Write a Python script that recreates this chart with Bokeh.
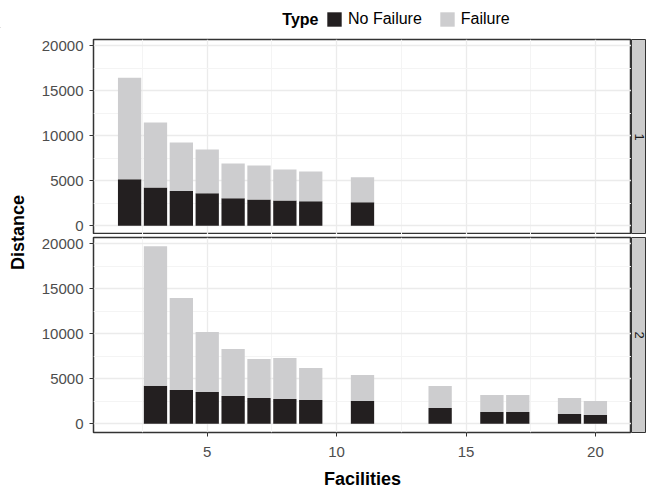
import math
from bokeh.plotting import figure
from bokeh.models import (ColumnDataSource, Range1d, FixedTicker, Legend, LegendItem)
from bokeh.layouts import column, row
from bokeh.core.properties import value
from bokeh.embed import file_html
from bokeh.resources import INLINE

# ---------------- data ----------------
series = ["No Failure", "Failure"]
panels = ["1", "2"]

top_facilities = [2, 3, 4, 5, 6, 7, 8, 9, 11]
top_no_failure = [5150, 4250, 3850, 3600, 3050, 2900, 2800, 2700, 2600]
top_failure = [11300, 7230, 5400, 4880, 3870, 3800, 3450, 3330, 2770]

bot_facilities = [3, 4, 5, 6, 7, 8, 9, 11, 14, 16, 17, 19, 20]
bot_no_failure = [4200, 3750, 3520, 3080, 2860, 2740, 2630, 2520, 1750, 1300, 1300, 1080, 970]
bot_failure = [15540, 10220, 6670, 5220, 4330, 4560, 3560, 2890, 2440, 1890, 1890, 1780, 1550]

x_ticks = [5, 10, 15, 20]
x_minor = [2.5, 7.5, 12.5, 17.5]
y_ticks = [0, 5000, 10000, 15000, 20000]
y_minor = [2500, 7500, 12500, 17500]

# ---------------- style ----------------
FONT = "Liberation Sans"
DARK = "#231F20"
LIGHT = "#CDCDCF"
colors = [DARK, LIGHT]
STRIP = "#CCCCCC"
BORDER = "#333333"
TICKLBL = "#4D4D4D"

X_RANGE = (0.605, 21.395)
Y_RANGE = (-985, 20700)

W_TOTAL = 646
W_LABEL = 30
W_STRIP = 15
W_PANEL = W_TOTAL - W_LABEL - W_STRIP
FRAME_H = 195
H_LEGEND = 28
TOP_BT = 11
TOP_BB = 0
BOT_BT = 3
H_TOP = TOP_BT + FRAME_H + TOP_BB
H_BOT = 491 - H_LEGEND - H_TOP
BOT_BB = H_BOT - BOT_BT - FRAME_H


def make_panel(xs, nf, fl, height, bottom_axis, border_bottom, border_top):
    src = ColumnDataSource(dict(x=xs, nf=nf, fl=fl))
    p = figure(width=W_PANEL, height=height, output_backend="svg",
               toolbar_location=None,
               x_range=Range1d(*X_RANGE), y_range=Range1d(*Y_RANGE),
               x_axis_location="below" if bottom_axis else None,
               min_border_left=63, min_border_right=0,
               min_border_top=border_top, min_border_bottom=border_bottom)
    p.background_fill_color = "white"
    p.border_fill_color = "white"
    p.outline_line_color = BORDER
    p.outline_line_width = 1.5

    p.xgrid.ticker = FixedTicker(ticks=x_ticks, minor_ticks=x_minor)
    p.ygrid.ticker = FixedTicker(ticks=y_ticks, minor_ticks=y_minor)
    for g in (p.xgrid, p.ygrid):
        g.grid_line_color = "#EBEBEB"
        g.grid_line_width = 1.3
        g.minor_grid_line_color = "#F4F4F4"
        g.minor_grid_line_width = 1

    p.vbar_stack(["nf", "fl"], x="x", width=0.9, source=src,
                 fill_color=colors, line_color=None)

    ya = p.yaxis[0]
    ya.ticker = FixedTicker(ticks=y_ticks, minor_ticks=[])
    ya.axis_line_color = None
    ya.major_tick_out = 4
    ya.major_tick_in = 0
    ya.minor_tick_out = 0
    ya.minor_tick_in = 0
    ya.major_tick_line_color = BORDER
    ya.major_label_standoff = 6
    ya.major_label_text_font = FONT
    ya.major_label_text_font_size = "15px"
    ya.major_label_text_color = TICKLBL

    if bottom_axis:
        xa = p.xaxis[0]
        xa.ticker = FixedTicker(ticks=x_ticks, minor_ticks=[])
        xa.axis_line_color = None
        xa.major_tick_out = 4
        xa.major_tick_in = 0
        xa.minor_tick_out = 0
        xa.minor_tick_in = 0
        xa.major_tick_line_color = BORDER
        xa.major_label_standoff = 10
        xa.major_label_text_font = FONT
        xa.major_label_text_font_size = "15px"
        xa.major_label_text_color = TICKLBL
        xa.axis_label = "Facilities"
        xa.axis_label_standoff = 9
        xa.axis_label_text_font = FONT
        xa.axis_label_text_font_size = "18px"
        xa.axis_label_text_font_style = "bold"
        xa.axis_label_text_color = "black"
    return p


def make_strip(label, height, border_bottom, border_top):
    s = figure(width=W_STRIP, height=height, output_backend="svg",
               toolbar_location=None,
               x_range=Range1d(0, 1), y_range=Range1d(0, 1),
               x_axis_location=None, y_axis_location=None,
               min_border_left=0, min_border_right=0,
               min_border_top=border_top, min_border_bottom=border_bottom)
    s.grid.visible = False
    s.background_fill_color = STRIP
    s.border_fill_color = "white"
    s.outline_line_color = BORDER
    s.outline_line_width = 1
    s.text(x=[0.5], y=[0.5], text=[label], angle=-math.pi / 2,
           text_align="center", text_baseline="middle",
           text_font=value(FONT), text_font_size="13px", text_color="#1A1A1A")
    return s


top = make_panel(top_facilities, top_no_failure, top_failure, H_TOP,
                 bottom_axis=False, border_bottom=TOP_BB, border_top=TOP_BT)
bot = make_panel(bot_facilities, bot_no_failure, bot_failure, H_BOT,
                 bottom_axis=True, border_bottom=BOT_BB, border_top=BOT_BT)
s1 = make_strip(panels[0], H_TOP, TOP_BB, TOP_BT)
s2 = make_strip(panels[1], H_BOT, BOT_BB, BOT_BT)

# ---------------- y axis title ----------------
H_BODY = H_TOP + H_BOT
lab = figure(width=W_LABEL, height=H_BODY, output_backend="svg",
             toolbar_location=None,
             x_range=Range1d(0, W_LABEL), y_range=Range1d(0, H_BODY),
             x_axis_location=None, y_axis_location=None,
             min_border=0)
lab.grid.visible = False
lab.outline_line_color = None
lab.text(x=[17], y=[H_BODY - (232 - H_LEGEND)], text=["Distance"], angle=math.pi / 2,
         text_align="center", text_baseline="middle",
         text_font=value(FONT), text_font_size="18px",
         text_font_style="bold", text_color="black")

# ---------------- legend ----------------
leg = figure(width=W_TOTAL, height=H_LEGEND, output_backend="svg",
             toolbar_location=None,
             x_range=Range1d(0, W_TOTAL), y_range=Range1d(0, H_LEGEND),
             x_axis_location=None, y_axis_location=None,
             min_border=0)
leg.grid.visible = False
leg.outline_line_color = None
r_nf = leg.vbar(x=[-100], top=[1], width=1, fill_color=colors[0], line_color=None)
r_f = leg.vbar(x=[-100], top=[1], width=1, fill_color=colors[1], line_color=None)
legend = Legend(items=[LegendItem(label=series[0], renderers=[r_nf]),
                       LegendItem(label=series[1], renderers=[r_f])],
                location=(325, 0), orientation="horizontal",
                glyph_width=18, glyph_height=18, label_height=18,
                label_standoff=5, spacing=16, padding=0, margin=0,
                border_line_color=None, background_fill_alpha=0,
                label_text_font=FONT, label_text_font_size="16px",
                label_text_color="black")
leg.add_layout(legend)
leg.text(x=[318], y=[9], text=["Type"], text_align="right",
         text_baseline="middle", text_font=value(FONT),
         text_font_size="16px", text_font_style="bold", text_color="black")

layout = column(leg,
                row(lab, column(row(top, s1), row(bot, s2))))

open("out.html", "w").write(file_html(layout, INLINE))
